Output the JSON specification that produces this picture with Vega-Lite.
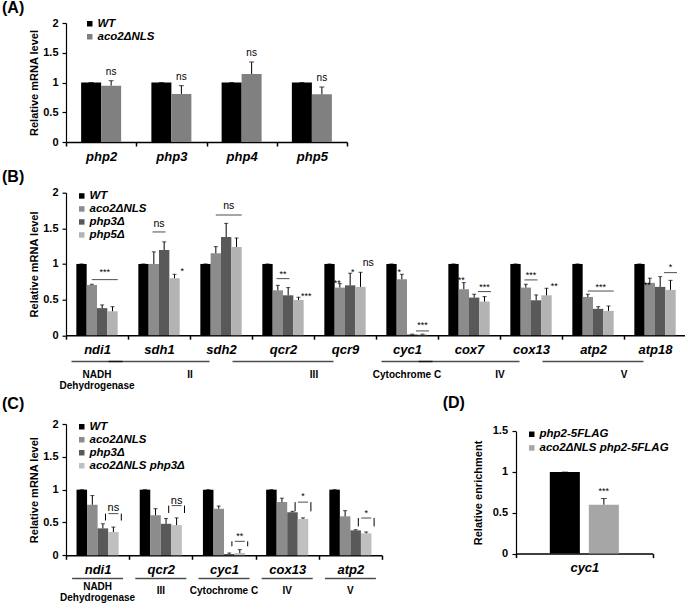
{
  "$schema": "https://vega.github.io/schema/vega-lite/v6.json",
  "padding": {"left": 2, "top": 0, "right": 0, "bottom": 0},
  "datasets": {
    "a": [
      {"gene": "php2", "strain": "WT", "value": 1, "upper": 1},
      {"gene": "php2", "strain": "aco2ΔNLS", "value": 0.947, "upper": 1.03, "sig": "ns"},
      {"gene": "php3", "strain": "WT", "value": 1, "upper": 1},
      {"gene": "php3", "strain": "aco2ΔNLS", "value": 0.807, "upper": 0.947, "sig": "ns"},
      {"gene": "php4", "strain": "WT", "value": 1, "upper": 1},
      {"gene": "php4", "strain": "aco2ΔNLS", "value": 1.143, "upper": 1.345, "sig": "ns"},
      {"gene": "php5", "strain": "WT", "value": 1, "upper": 1},
      {"gene": "php5", "strain": "aco2ΔNLS", "value": 0.801, "upper": 0.924, "sig": "ns"}
    ],
    "b": [
      {"gene": "ndi1", "strain": "WT", "value": 1, "upper": 1},
      {"gene": "ndi1", "strain": "aco2ΔNLS", "value": 0.705, "upper": 0.715},
      {"gene": "ndi1", "strain": "php3Δ", "value": 0.38, "upper": 0.425},
      {"gene": "ndi1", "strain": "php5Δ", "value": 0.336, "upper": 0.4},
      {"gene": "sdh1", "strain": "WT", "value": 1, "upper": 1},
      {"gene": "sdh1", "strain": "aco2ΔNLS", "value": 1.0, "upper": 1.17},
      {"gene": "sdh1", "strain": "php3Δ", "value": 1.196, "upper": 1.31},
      {"gene": "sdh1", "strain": "php5Δ", "value": 0.8, "upper": 0.855},
      {"gene": "sdh2", "strain": "WT", "value": 1, "upper": 1},
      {"gene": "sdh2", "strain": "aco2ΔNLS", "value": 1.15, "upper": 1.243},
      {"gene": "sdh2", "strain": "php3Δ", "value": 1.378, "upper": 1.57},
      {"gene": "sdh2", "strain": "php5Δ", "value": 1.238, "upper": 1.364},
      {"gene": "qcr2", "strain": "WT", "value": 1, "upper": 1},
      {"gene": "qcr2", "strain": "aco2ΔNLS", "value": 0.63, "upper": 0.7},
      {"gene": "qcr2", "strain": "php3Δ", "value": 0.56, "upper": 0.668},
      {"gene": "qcr2", "strain": "php5Δ", "value": 0.495, "upper": 0.533},
      {"gene": "qcr9", "strain": "WT", "value": 1, "upper": 1},
      {"gene": "qcr9", "strain": "aco2ΔNLS", "value": 0.668, "upper": 0.724},
      {"gene": "qcr9", "strain": "php3Δ", "value": 0.7, "upper": 0.87},
      {"gene": "qcr9", "strain": "php5Δ", "value": 0.678, "upper": 0.883},
      {"gene": "cyc1", "strain": "WT", "value": 1, "upper": 1},
      {"gene": "cyc1", "strain": "aco2ΔNLS", "value": 0.785, "upper": 0.855},
      {"gene": "cyc1", "strain": "php3Δ", "value": 0.01, "upper": 0.015},
      {"gene": "cyc1", "strain": "php5Δ", "value": 0.01, "upper": 0.015},
      {"gene": "cox7", "strain": "WT", "value": 1, "upper": 1},
      {"gene": "cox7", "strain": "aco2ΔNLS", "value": 0.645, "upper": 0.738},
      {"gene": "cox7", "strain": "php3Δ", "value": 0.528, "upper": 0.575},
      {"gene": "cox7", "strain": "php5Δ", "value": 0.472, "upper": 0.542},
      {"gene": "cox13", "strain": "WT", "value": 1, "upper": 1},
      {"gene": "cox13", "strain": "aco2ΔNLS", "value": 0.668, "upper": 0.715},
      {"gene": "cox13", "strain": "php3Δ", "value": 0.49, "upper": 0.565},
      {"gene": "cox13", "strain": "php5Δ", "value": 0.56, "upper": 0.659},
      {"gene": "atp2", "strain": "WT", "value": 1, "upper": 1},
      {"gene": "atp2", "strain": "aco2ΔNLS", "value": 0.537, "upper": 0.575},
      {"gene": "atp2", "strain": "php3Δ", "value": 0.37, "upper": 0.4},
      {"gene": "atp2", "strain": "php5Δ", "value": 0.341, "upper": 0.41},
      {"gene": "atp18", "strain": "WT", "value": 1, "upper": 1},
      {"gene": "atp18", "strain": "aco2ΔNLS", "value": 0.734, "upper": 0.8},
      {"gene": "atp18", "strain": "php3Δ", "value": 0.678, "upper": 0.822},
      {"gene": "atp18", "strain": "php5Δ", "value": 0.636, "upper": 0.77}
    ],
    "b_lines": [
      {"gene": "ndi1", "over": "php3Δ", "level": 0.78, "bars": 3},
      {"gene": "sdh1", "over": "aco2ΔNLS|php3Δ", "level": 1.449, "bars": 2},
      {"gene": "sdh2", "over": "php3Δ", "level": 1.687, "bars": 3},
      {"gene": "qcr2", "over": "aco2ΔNLS|php3Δ", "level": 0.794, "bars": 2},
      {"gene": "cyc1", "over": "php3Δ|php5Δ", "level": 0.06, "bars": 2},
      {"gene": "cox7", "over": "php3Δ|php5Δ", "level": 0.612, "bars": 2},
      {"gene": "cox13", "over": "aco2ΔNLS|php3Δ", "level": 0.776, "bars": 2},
      {"gene": "atp2", "over": "php3Δ", "level": 0.62, "bars": 3},
      {"gene": "atp18", "over": "php3Δ|php5Δ", "level": 0.878, "bars": 2}
    ],
    "b_text": [
      {"gene": "ndi1", "over": "php3Δ", "text": "***", "level": 0.885},
      {"gene": "sdh1", "over": "aco2ΔNLS|php3Δ", "text": "ns", "level": 1.565},
      {"gene": "sdh1", "over": "php5Δ", "text": "*", "level": 0.9},
      {"gene": "sdh2", "over": "php3Δ", "text": "ns", "level": 1.81},
      {"gene": "qcr2", "over": "aco2ΔNLS|php3Δ", "text": "**", "level": 0.86},
      {"gene": "qcr2", "over": "php5Δ", "text": "***", "level": 0.55},
      {"gene": "qcr9", "over": "aco2ΔNLS", "text": "**", "level": 0.73},
      {"gene": "qcr9", "over": "php3Δ", "text": "*", "level": 0.885},
      {"gene": "qcr9", "over": "php5Δ", "text": "ns", "level": 1.02},
      {"gene": "cyc1", "over": "aco2ΔNLS", "text": "*", "level": 0.885},
      {"gene": "cyc1", "over": "php3Δ|php5Δ", "text": "***", "level": 0.14},
      {"gene": "cox7", "over": "aco2ΔNLS", "text": "**", "level": 0.77},
      {"gene": "cox7", "over": "php3Δ|php5Δ", "text": "***", "level": 0.675},
      {"gene": "cox13", "over": "aco2ΔNLS|php3Δ", "text": "***", "level": 0.85},
      {"gene": "cox13", "over": "php5Δ", "text": "**", "level": 0.684},
      {"gene": "atp2", "over": "php3Δ", "text": "***", "level": 0.675},
      {"gene": "atp18", "over": "aco2ΔNLS", "text": "**", "level": 0.71},
      {"gene": "atp18", "over": "php3Δ|php5Δ", "text": "*", "level": 0.955}
    ],
    "b_groups": [
      {"gene": "ndi1", "label": "NADH\nDehydrogenase", "n": 1},
      {"gene": "sdh1", "label": "II", "n": 2},
      {"gene": "qcr2", "label": "III", "n": 2},
      {"gene": "cyc1", "label": "Cytochrome C", "n": 1},
      {"gene": "cox7", "label": "IV", "n": 2},
      {"gene": "atp2", "label": "V", "n": 2}
    ],
    "c": [
      {"gene": "ndi1", "strain": "WT", "value": 1, "upper": 1},
      {"gene": "ndi1", "strain": "aco2ΔNLS", "value": 0.77, "upper": 0.91},
      {"gene": "ndi1", "strain": "php3Δ", "value": 0.41, "upper": 0.48},
      {"gene": "ndi1", "strain": "aco2ΔNLS php3Δ", "value": 0.355, "upper": 0.43},
      {"gene": "qcr2", "strain": "WT", "value": 1, "upper": 1},
      {"gene": "qcr2", "strain": "aco2ΔNLS", "value": 0.61, "upper": 0.71},
      {"gene": "qcr2", "strain": "php3Δ", "value": 0.48, "upper": 0.56},
      {"gene": "qcr2", "strain": "aco2ΔNLS php3Δ", "value": 0.46, "upper": 0.57},
      {"gene": "cyc1", "strain": "WT", "value": 1, "upper": 1},
      {"gene": "cyc1", "strain": "aco2ΔNLS", "value": 0.71, "upper": 0.75},
      {"gene": "cyc1", "strain": "php3Δ", "value": 0.02, "upper": 0.035},
      {"gene": "cyc1", "strain": "aco2ΔNLS php3Δ", "value": 0.035, "upper": 0.086},
      {"gene": "cox13", "strain": "WT", "value": 1, "upper": 1},
      {"gene": "cox13", "strain": "aco2ΔNLS", "value": 0.81, "upper": 0.87},
      {"gene": "cox13", "strain": "php3Δ", "value": 0.655, "upper": 0.67},
      {"gene": "cox13", "strain": "aco2ΔNLS php3Δ", "value": 0.553, "upper": 0.57},
      {"gene": "atp2", "strain": "WT", "value": 1, "upper": 1},
      {"gene": "atp2", "strain": "aco2ΔNLS", "value": 0.594, "upper": 0.68},
      {"gene": "atp2", "strain": "php3Δ", "value": 0.38, "upper": 0.39},
      {"gene": "atp2", "strain": "aco2ΔNLS php3Δ", "value": 0.335, "upper": 0.355}
    ],
    "c_br": [
      {"gene": "ndi1", "top": 0.635, "bottom": 0.53, "text": "ns", "textLevel": 0.72},
      {"gene": "qcr2", "top": 0.757, "bottom": 0.645, "text": "ns", "textLevel": 0.833},
      {"gene": "cyc1", "top": 0.213, "bottom": 0.137, "text": "**", "textLevel": 0.3},
      {"gene": "cox13", "top": 0.81, "bottom": 0.67, "text": "*", "textLevel": 0.91},
      {"gene": "atp2", "top": 0.568, "bottom": 0.44, "text": "*", "textLevel": 0.64}
    ],
    "c_groups": [
      {"gene": "ndi1", "label": "NADH\nDehydrogenase", "lines": 2},
      {"gene": "qcr2", "label": "III", "lines": 1},
      {"gene": "cyc1", "label": "Cytochrome C", "lines": 1},
      {"gene": "cox13", "label": "IV", "lines": 1},
      {"gene": "atp2", "label": "V", "lines": 1}
    ],
    "d": [
      {"gene": "cyc1", "strain": "php2-5FLAG", "value": 1, "upper": 1},
      {"gene": "cyc1", "strain": "aco2ΔNLS php2-5FLAG", "value": 0.6, "upper": 0.675, "sig": "***"}
    ],
    "d_ticks": [
      {"gene": "cyc1", "tick": 0},
      {"gene": "cyc1", "tick": 0.5},
      {"gene": "cyc1", "tick": 1},
      {"gene": "cyc1", "tick": 1.5}
    ]
  },
  "spacing": 3,
  "align": "each",
  "resolve": {"scale": {"x": "independent", "y": "independent", "xOffset": "independent", "color": "independent"}, "legend": {"color": "independent"}},
  "vconcat": [
    {
      "spacing": 5.7,
      "align": "each",
      "resolve": {"scale": {"x": "independent", "y": "independent", "xOffset": "independent", "color": "independent"}, "legend": {"color": "independent"}},
      "vconcat": [
        {
          "width": 281, "height": 119,
          "title": {"text": "(A)", "offset": 1},
          "data": {"name": "a"},
          "encoding": {
            "x": {"field": "gene", "type": "nominal", "title": null, "scale": {"domain": ["php2", "php3", "php4", "php5"], "paddingInner": 0, "paddingOuter": 0}},
            "xOffset": {"field": "strain", "type": "nominal", "scale": {"domain": ["WT", "aco2ΔNLS"], "paddingInner": 0, "paddingOuter": 0.756}}
          },
          "layer": [
            {"mark": {"type": "bar"},
             "encoding": {
               "y": {"field": "value", "type": "quantitative", "title": "Relative mRNA level", "scale": {"domain": [0, 2]}, "axis": {"values": [0, 0.5, 1, 1.5, 2]}},
               "color": {"field": "strain", "type": "nominal", "scale": {"domain": ["WT", "aco2ΔNLS"], "range": ["#000000", "#808080"]}, "legend": {"title": null, "legendX": 18, "legendY": -5, "rowPadding": 0}}
             }},
            {"mark": {"type": "rule", "color": "#000000", "strokeWidth": 1},
             "encoding": {"y": {"field": "value", "type": "quantitative", "title": "Relative mRNA level", "scale": {"domain": [0, 2]}, "axis": {"values": [0, 0.5, 1, 1.5, 2]}}, "y2": {"field": "upper"}}},
            {"mark": {"type": "tick", "color": "#000000", "thickness": 1, "size": 5},
             "encoding": {"y": {"field": "upper", "type": "quantitative", "title": "Relative mRNA level", "scale": {"domain": [0, 2]}, "axis": {"values": [0, 0.5, 1, 1.5, 2]}}}},
            {"transform": [{"filter": "datum.sig"}],
             "mark": {"type": "text", "baseline": "bottom", "dy": -4, "fontSize": 10, "color": "#000000"},
             "encoding": {"y": {"field": "upper", "type": "quantitative", "title": "Relative mRNA level", "scale": {"domain": [0, 2]}, "axis": {"values": [0, 0.5, 1, 1.5, 2]}}, "text": {"field": "sig"}}}
          ]
        },
        {
          "width": 620, "height": 142.5,
          "title": {"text": "(B)", "offset": 1.4},
          "encoding": {
            "x": {"field": "gene", "type": "nominal", "title": null, "scale": {"domain": ["ndi1", "sdh1", "sdh2", "qcr2", "qcr9", "cyc1", "cox7", "cox13", "atp2", "atp18"], "paddingInner": 0, "paddingOuter": 0}}
          },
          "resolve": {"scale": {"xOffset": "independent"}},
          "layer": [
            {
              "data": {"name": "b"},
              "encoding": {"xOffset": {"field": "strain", "type": "nominal", "scale": {"domain": ["WT", "aco2ΔNLS", "php3Δ", "php5Δ"], "paddingInner": 0, "paddingOuter": 1.1}}},
              "layer": [
                {"mark": {"type": "bar"},
                 "encoding": {
                   "y": {"field": "value", "type": "quantitative", "title": "Relative mRNA level", "scale": {"domain": [0, 2]}, "axis": {"values": [0, 0.5, 1, 1.5, 2]}},
                   "color": {"field": "strain", "type": "nominal", "scale": {"domain": ["WT", "aco2ΔNLS", "php3Δ", "php5Δ"], "range": ["#000000", "#8c8c8c", "#595959", "#b3b3b3"]}, "legend": {"title": null, "legendX": 10, "legendY": -2.5, "rowPadding": 0}}
                 }},
                {"mark": {"type": "rule", "color": "#000000", "strokeWidth": 1},
                 "encoding": {"y": {"field": "value", "type": "quantitative", "title": "Relative mRNA level", "scale": {"domain": [0, 2]}, "axis": {"values": [0, 0.5, 1, 1.5, 2]}}, "y2": {"field": "upper"}}},
                {"mark": {"type": "tick", "color": "#000000", "thickness": 1, "size": 4},
                 "encoding": {"y": {"field": "upper", "type": "quantitative", "title": "Relative mRNA level", "scale": {"domain": [0, 2]}, "axis": {"values": [0, 0.5, 1, 1.5, 2]}}}}
              ]
            },
            {
              "encoding": {"xOffset": {"field": "over", "type": "nominal", "scale": {"type": "point", "domain": ["WT", "WT|aco2ΔNLS", "aco2ΔNLS", "aco2ΔNLS|php3Δ", "php3Δ", "php3Δ|php5Δ", "php5Δ"], "padding": 3.2}}},
              "layer": [
                {"data": {"name": "b_lines"}, "transform": [{"filter": "datum.bars == 3"}],
                 "mark": {"type": "tick", "color": "#000000", "thickness": 1, "size": 26},
                 "encoding": {"y": {"field": "level", "type": "quantitative", "title": "Relative mRNA level", "scale": {"domain": [0, 2]}, "axis": {"values": [0, 0.5, 1, 1.5, 2]}}}},
                {"data": {"name": "b_lines"}, "transform": [{"filter": "datum.bars == 2"}],
                 "mark": {"type": "tick", "color": "#000000", "thickness": 1, "size": 13},
                 "encoding": {"y": {"field": "level", "type": "quantitative", "title": "Relative mRNA level", "scale": {"domain": [0, 2]}, "axis": {"values": [0, 0.5, 1, 1.5, 2]}}}},
                {"data": {"name": "b_text"}, "transform": [{"filter": "datum.text == 'ns'"}],
                 "mark": {"type": "text", "fontSize": 10.5, "color": "#000000", "baseline": "middle"},
                 "encoding": {"y": {"field": "level", "type": "quantitative", "title": "Relative mRNA level", "scale": {"domain": [0, 2]}, "axis": {"values": [0, 0.5, 1, 1.5, 2]}}, "text": {"field": "text"}}},
                {"data": {"name": "b_text"}, "transform": [{"filter": "datum.text != 'ns'"}],
                 "mark": {"type": "text", "fontSize": 9, "color": "#000000", "baseline": "middle"},
                 "encoding": {"y": {"field": "level", "type": "quantitative", "title": "Relative mRNA level", "scale": {"domain": [0, 2]}, "axis": {"values": [0, 0.5, 1, 1.5, 2]}}, "text": {"field": "text"}}}
              ]
            },
            {"data": {"name": "b_groups"}, "transform": [{"filter": "datum.n == 1"}],
             "mark": {"type": "tick", "color": "#000000", "thickness": 1.5, "size": 51},
             "encoding": {"y": {"datum": -0.37, "type": "quantitative", "scale": {"domain": [0, 2]}, "axis": {"values": [0, 0.5, 1, 1.5, 2]}}}},
            {"data": {"name": "b_groups"}, "transform": [{"filter": "datum.n == 2"}],
             "mark": {"type": "tick", "color": "#000000", "thickness": 1.5, "size": 101},
             "encoding": {
               "x": {"field": "gene", "type": "nominal", "title": null, "bandPosition": 1, "scale": {"domain": ["ndi1", "sdh1", "sdh2", "qcr2", "qcr9", "cyc1", "cox7", "cox13", "atp2", "atp18"], "paddingInner": 0, "paddingOuter": 0}},
               "y": {"datum": -0.37, "type": "quantitative", "scale": {"domain": [0, 2]}, "axis": {"values": [0, 0.5, 1, 1.5, 2]}}}},
            {"data": {"name": "b_groups"}, "transform": [{"filter": "datum.n == 1"}],
             "mark": {"type": "text", "fontSize": 10, "fontWeight": "bold", "color": "#000000", "lineBreak": "\n", "lineHeight": 11.7, "baseline": "middle"},
             "encoding": {"y": {"datum": -0.555, "type": "quantitative", "scale": {"domain": [0, 2]}, "axis": {"values": [0, 0.5, 1, 1.5, 2]}}, "text": {"field": "label"}}},
            {"data": {"name": "b_groups"}, "transform": [{"filter": "datum.n == 2"}],
             "mark": {"type": "text", "fontSize": 10, "fontWeight": "bold", "color": "#000000", "lineBreak": "\n", "baseline": "middle"},
             "encoding": {
               "x": {"field": "gene", "type": "nominal", "title": null, "bandPosition": 1, "scale": {"domain": ["ndi1", "sdh1", "sdh2", "qcr2", "qcr9", "cyc1", "cox7", "cox13", "atp2", "atp18"], "paddingInner": 0, "paddingOuter": 0}},
               "y": {"datum": -0.56, "type": "quantitative", "scale": {"domain": [0, 2]}, "axis": {"values": [0, 0.5, 1, 1.5, 2]}}, "text": {"field": "label"}}}
          ]
        }
      ]
    },
    {
      "hconcat": [
        {
          "width": 316, "height": 131.3,
          "title": {"text": "(C)", "offset": 6},
          "encoding": {
            "x": {"field": "gene", "type": "nominal", "title": null, "scale": {"domain": ["ndi1", "qcr2", "cyc1", "cox13", "atp2"], "paddingInner": 0, "paddingOuter": 0}}
          },
          "resolve": {"scale": {"xOffset": "independent"}},
          "layer": [
            {
              "data": {"name": "c"},
              "encoding": {"xOffset": {"field": "strain", "type": "nominal", "scale": {"domain": ["WT", "aco2ΔNLS", "php3Δ", "aco2ΔNLS php3Δ"], "paddingInner": 0, "paddingOuter": 1.16}}},
              "layer": [
                {"mark": {"type": "bar"},
                 "encoding": {
                   "y": {"field": "value", "type": "quantitative", "title": "Relative mRNA level", "scale": {"domain": [0, 2]}, "axis": {"values": [0, 0.5, 1, 1.5, 2]}},
                   "color": {"field": "strain", "type": "nominal", "scale": {"domain": ["WT", "aco2ΔNLS", "php3Δ", "aco2ΔNLS php3Δ"], "range": ["#000000", "#8c8c8c", "#595959", "#c0c0c0"]}, "legend": {"title": null, "legendX": 10, "legendY": -3, "rowPadding": 0}}
                 }},
                {"mark": {"type": "rule", "color": "#000000", "strokeWidth": 1},
                 "encoding": {"y": {"field": "value", "type": "quantitative", "title": "Relative mRNA level", "scale": {"domain": [0, 2]}, "axis": {"values": [0, 0.5, 1, 1.5, 2]}}, "y2": {"field": "upper"}}},
                {"mark": {"type": "tick", "color": "#000000", "thickness": 1, "size": 4},
                 "encoding": {"y": {"field": "upper", "type": "quantitative", "title": "Relative mRNA level", "scale": {"domain": [0, 2]}, "axis": {"values": [0, 0.5, 1, 1.5, 2]}}}}
              ]
            },
            {
              "data": {"name": "c_br"},
              "layer": [
                {"mark": {"type": "tick", "color": "#000000", "thickness": 1, "size": 10},
                 "encoding": {
                   "xOffset": {"datum": "php3Δ|aco2ΔNLS php3Δ", "type": "nominal", "scale": {"type": "point", "domain": ["WT", "WT|aco2ΔNLS", "aco2ΔNLS", "aco2ΔNLS|php3Δ", "php3Δ", "php3Δ|aco2ΔNLS php3Δ", "aco2ΔNLS php3Δ"], "padding": 3.32}},
                   "y": {"field": "top", "type": "quantitative", "title": "Relative mRNA level", "scale": {"domain": [0, 2]}, "axis": {"values": [0, 0.5, 1, 1.5, 2]}}}},
                {"mark": {"type": "rule", "color": "#000000", "strokeWidth": 1},
                 "encoding": {
                   "xOffset": {"datum": "php3Δ", "type": "nominal", "scale": {"type": "point", "domain": ["WT", "WT|aco2ΔNLS", "aco2ΔNLS", "aco2ΔNLS|php3Δ", "php3Δ", "php3Δ|aco2ΔNLS php3Δ", "aco2ΔNLS php3Δ"], "padding": 3.32}},
                   "y": {"field": "bottom", "type": "quantitative", "title": "Relative mRNA level", "scale": {"domain": [0, 2]}, "axis": {"values": [0, 0.5, 1, 1.5, 2]}}, "y2": {"field": "top"}}},
                {"mark": {"type": "rule", "color": "#000000", "strokeWidth": 1},
                 "encoding": {
                   "xOffset": {"datum": "aco2ΔNLS php3Δ", "type": "nominal", "scale": {"type": "point", "domain": ["WT", "WT|aco2ΔNLS", "aco2ΔNLS", "aco2ΔNLS|php3Δ", "php3Δ", "php3Δ|aco2ΔNLS php3Δ", "aco2ΔNLS php3Δ"], "padding": 3.32}},
                   "y": {"field": "bottom", "type": "quantitative", "title": "Relative mRNA level", "scale": {"domain": [0, 2]}, "axis": {"values": [0, 0.5, 1, 1.5, 2]}}, "y2": {"field": "top"}}},
                {"transform": [{"filter": "datum.text == 'ns'"}],
                 "mark": {"type": "text", "fontSize": 11, "color": "#000000", "baseline": "middle"},
                 "encoding": {
                   "xOffset": {"datum": "php3Δ|aco2ΔNLS php3Δ", "type": "nominal", "scale": {"type": "point", "domain": ["WT", "WT|aco2ΔNLS", "aco2ΔNLS", "aco2ΔNLS|php3Δ", "php3Δ", "php3Δ|aco2ΔNLS php3Δ", "aco2ΔNLS php3Δ"], "padding": 3.32}},
                   "y": {"field": "textLevel", "type": "quantitative", "title": "Relative mRNA level", "scale": {"domain": [0, 2]}, "axis": {"values": [0, 0.5, 1, 1.5, 2]}}, "text": {"field": "text"}}},
                {"transform": [{"filter": "datum.text != 'ns'"}],
                 "mark": {"type": "text", "fontSize": 9, "color": "#000000", "baseline": "middle"},
                 "encoding": {
                   "xOffset": {"datum": "php3Δ|aco2ΔNLS php3Δ", "type": "nominal", "scale": {"type": "point", "domain": ["WT", "WT|aco2ΔNLS", "aco2ΔNLS", "aco2ΔNLS|php3Δ", "php3Δ", "php3Δ|aco2ΔNLS php3Δ", "aco2ΔNLS php3Δ"], "padding": 3.32}},
                   "y": {"field": "textLevel", "type": "quantitative", "title": "Relative mRNA level", "scale": {"domain": [0, 2]}, "axis": {"values": [0, 0.5, 1, 1.5, 2]}}, "text": {"field": "text"}}}
              ]
            },
            {"data": {"name": "c_groups"},
             "mark": {"type": "tick", "color": "#000000", "thickness": 1.5, "size": 51},
             "encoding": {"y": {"datum": -0.355, "type": "quantitative", "scale": {"domain": [0, 2]}, "axis": {"values": [0, 0.5, 1, 1.5, 2]}}}},
            {"data": {"name": "c_groups"}, "transform": [{"filter": "datum.lines == 1"}],
             "mark": {"type": "text", "fontSize": 10, "fontWeight": "bold", "color": "#000000", "baseline": "middle"},
             "encoding": {"y": {"datum": -0.55, "type": "quantitative", "scale": {"domain": [0, 2]}, "axis": {"values": [0, 0.5, 1, 1.5, 2]}}, "text": {"field": "label"}}},
            {"data": {"name": "c_groups"}, "transform": [{"filter": "datum.lines == 2"}],
             "mark": {"type": "text", "fontSize": 10, "fontWeight": "bold", "color": "#000000", "lineBreak": "\n", "lineHeight": 10.7, "baseline": "middle"},
             "encoding": {"y": {"datum": -0.49, "type": "quantitative", "scale": {"domain": [0, 2]}, "axis": {"values": [0, 0.5, 1, 1.5, 2]}}, "text": {"field": "label"}}}
          ]
        },
        {
          "width": 136.7, "height": 129.6,
          "title": {"text": "(D)", "offset": 13, "dx": -73.3},
          "encoding": {
            "x": {"field": "gene", "type": "nominal", "title": null, "scale": {"domain": ["cyc1"], "paddingInner": 0, "paddingOuter": 0}}
          },
          "layer": [
            {"data": {"name": "d"},
             "encoding": {"xOffset": {"field": "strain", "type": "nominal", "scale": {"domain": ["php2-5FLAG", "aco2ΔNLS php2-5FLAG"], "paddingInner": 0.23, "paddingOuter": 0.867}}},
             "layer": [
              {"mark": {"type": "bar"},
               "encoding": {
                 "y": {"field": "value", "type": "quantitative", "title": "Relative enrichment", "scale": {"domain": [0, 1.5], "range": [129.6, 7.3], "nice": false}, "axis": {"values": [0, 0.5, 1, 1.5], "labels": false, "titlePadding": 28}},
                 "color": {"field": "strain", "type": "nominal", "scale": {"domain": ["php2-5FLAG", "aco2ΔNLS php2-5FLAG"], "range": ["#000000", "#a6a6a6"]}, "legend": {"title": null, "legendX": 10, "legendY": 4.5, "rowPadding": 0.7}}
               }},
              {"mark": {"type": "rule", "color": "#000000", "strokeWidth": 1},
               "encoding": {"y": {"field": "value", "type": "quantitative", "title": "Relative enrichment", "scale": {"domain": [0, 1.5], "range": [129.6, 7.3], "nice": false}, "axis": {"values": [0, 0.5, 1, 1.5], "labels": false, "titlePadding": 28}}, "y2": {"field": "upper"}}},
              {"mark": {"type": "tick", "color": "#000000", "thickness": 1, "size": 6},
               "encoding": {"y": {"field": "upper", "type": "quantitative", "title": "Relative enrichment", "scale": {"domain": [0, 1.5], "range": [129.6, 7.3], "nice": false}, "axis": {"values": [0, 0.5, 1, 1.5], "labels": false, "titlePadding": 28}}}},
              {"transform": [{"filter": "datum.sig"}],
               "mark": {"type": "text", "baseline": "bottom", "dy": -2.5, "fontSize": 9, "color": "#000000"},
               "encoding": {"y": {"field": "upper", "type": "quantitative", "title": "Relative enrichment", "scale": {"domain": [0, 1.5], "range": [129.6, 7.3], "nice": false}, "axis": {"values": [0, 0.5, 1, 1.5], "labels": false, "titlePadding": 28}}, "text": {"field": "sig"}}}
             ]},
            {"data": {"name": "d_ticks"},
             "mark": {"type": "text", "align": "right", "baseline": "middle", "dx": -8, "fontSize": 11, "fontWeight": "bold", "color": "#000000"},
             "encoding": {
               "x": {"field": "gene", "type": "nominal", "title": null, "bandPosition": 0, "scale": {"domain": ["cyc1"], "paddingInner": 0, "paddingOuter": 0}},
               "y": {"field": "tick", "type": "quantitative", "title": "Relative enrichment", "scale": {"domain": [0, 1.5], "range": [129.6, 7.3], "nice": false}, "axis": {"values": [0, 0.5, 1, 1.5], "labels": false, "titlePadding": 28}},
               "text": {"field": "tick", "type": "quantitative", "format": "~g"}}}
          ]
        }
      ],
      "spacing": 59,
      "align": "each",
      "resolve": {"scale": {"x": "independent", "y": "independent", "xOffset": "independent", "color": "independent"}, "legend": {"color": "independent"}}
    }
  ],
  "config": {
    "view": {"stroke": null},
    "font": "Liberation Sans",
    "title": {"anchor": "start", "frame": "group", "fontSize": 16, "fontWeight": "bold", "baseline": "middle", "dx": -64, "font": "Liberation Sans", "color": "#000000"},
    "text": {"font": "Liberation Sans"},
    "axis": {"grid": false, "domainColor": "#000000", "tickColor": "#000000", "labelColor": "#000000", "titleColor": "#000000", "labelFont": "Liberation Sans", "titleFont": "Liberation Sans", "labelFontWeight": "bold", "titleFontWeight": "bold"},
    "axisX": {"tickBand": "extent", "labelFontSize": 13, "labelFontStyle": "italic", "labelAngle": 0, "tickSize": 4, "labelPadding": 4, "domainWidth": 1.5, "tickWidth": 1.5},
    "axisY": {"labelFontSize": 11, "titleFontSize": 11, "tickSize": 4, "labelPadding": 4, "titlePadding": 3, "domainWidth": 1.2, "tickWidth": 1.2, "format": "~g", "labelOverlap": false},
    "legend": {"orient": "none", "symbolType": "square", "symbolSize": 30, "symbolStrokeWidth": 0, "labelFont": "Liberation Sans", "labelFontStyle": "italic", "labelFontWeight": "bold", "labelFontSize": 11.5, "labelColor": "#000000", "padding": 0, "labelOffset": 2}
  }
}
